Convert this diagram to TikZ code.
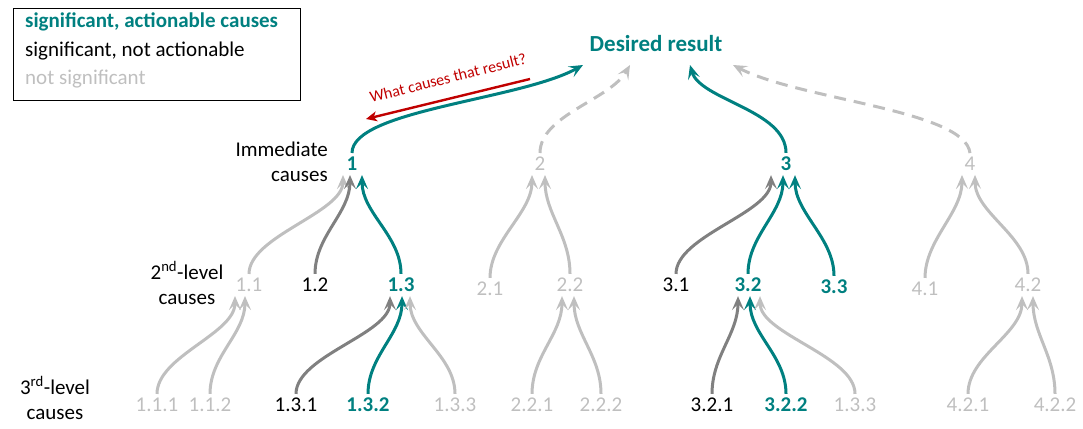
\documentclass[tikz,border=0pt]{standalone}
\usepackage{fontspec}
\setmainfont{Carlito}
\usetikzlibrary{arrows.meta,calc}
\definecolor{tl}{RGB}{0,128,128}
\definecolor{lg}{RGB}{191,191,191}
\definecolor{dg}{RGB}{128,128,128}
\definecolor{rd}{RGB}{192,0,0}
\tikzset{
 lab/.style={font=\fontsize{21}{25}\selectfont, inner sep=4pt},
 T/.style={lab,text=tl,font=\fontsize{21}{25}\selectfont\bfseries},
 B/.style={lab,text=black},
 L/.style={lab,text=lg},
 ar/.style={line width=3pt,-{Stealth[length=14pt,width=12pt,inset=6pt]}},
 aT/.style={ar,draw=tl}, aD/.style={ar,draw=dg}, aL/.style={ar,draw=lg},
 aLd/.style={aL,dash pattern=on 12pt off 8pt},
}
\newcommand{\cc}[4]{\draw[#4] (#1.north) .. controls ($(#1.north)+(0,-38)$) and ($(#2.south)+(#3,38)$) .. ($(#2.south)+(#3,0)$);}
\begin{document}
\begin{tikzpicture}[x=1pt,y=-1pt]
\useasboundingbox (0,0) rectangle (1083,428);
% legend
\draw[line width=0.8pt] (13,8) rectangle (300,100);
\node[T,anchor=west,inner sep=1pt] (lg1) at (24,22) {significant, actionable causes};
\node[B,anchor=west,inner sep=1pt] (lg2) at (24,51) {significant, not actionable};
\node[L,anchor=west,inner sep=1pt] (lg3) at (24,79) {not significant};
% left labels
\node[B,align=right,anchor=east,inner sep=1pt] (im) at (329,162) {Immediate\\causes};
\node[B,align=center,inner sep=1pt] (l2) at (187,283) {2\textsuperscript{nd}-level\\causes};
\node[B,align=center,inner sep=1pt] (l3) at (55,398) {3\textsuperscript{rd}-level\\causes};
% nodes
\node[T,font=\fontsize{23}{25}\selectfont\bfseries] (D) at (656,44) {Desired result};
\node[T] (n1) at (352,164) {1};
\node[L] (n2) at (540,164) {2};
\node[T] (n3) at (786,164) {3};
\node[L] (n4) at (970,164) {4};
\node[L] (n11) at (249,285) {1.1};
\node[B] (n12) at (315,285) {1.2};
\node[T] (n13) at (401,285) {1.3};
\node[L] (n21) at (490,289) {2.1};
\node[L] (n22) at (570,285) {2.2};
\node[B] (n31) at (676,285) {3.1};
\node[T] (n32) at (748,285) {3.2};
\node[T] (n33) at (834,287) {3.3};
\node[L] (n41) at (925,289) {4.1};
\node[L] (n42) at (1028,285) {4.2};
\node[L] (n111) at (157,405) {1.1.1};
\node[L] (n112) at (210,405) {1.1.2};
\node[B] (n131) at (296,405) {1.3.1};
\node[T] (n132) at (368,405) {1.3.2};
\node[L] (n133) at (455,405) {1.3.3};
\node[L] (n221) at (532,405) {2.2.1};
\node[L] (n222) at (601,405) {2.2.2};
\node[B] (n321) at (712,405) {3.2.1};
\node[T] (n322) at (786,405) {3.2.2};
\node[L] (n333) at (855,405) {1.3.3};
\node[L] (n421) at (968,405) {4.2.1};
\node[L] (n422) at (1055,405) {4.2.2};
% top arrows
\draw[aT] (n1.north) .. controls (352,110) and (520,100) .. (583,65);
\draw[aLd] (n2.north) .. controls (540,115) and (610,100) .. (630,65);
\draw[aT] (n3.north) .. controls (786,110) and (700,100) .. (690,65);
\draw[aLd] (n4.north) .. controls (965,110) and (800,100) .. (733,65);
% red question
\draw[rd,line width=2.4pt,-{Stealth[length=11pt,width=10pt,inset=3pt]}] (530,79) coordinate (qa) -- (366,119) coordinate (qb);
\node[text=rd,font=\fontsize{16}{16}\selectfont,rotate=14] (q) at (448,78) {What causes that result?};
% level 2 -> 1
\cc{n11}{n1}{-9}{aL}
\cc{n12}{n1}{-2}{aD}
\cc{n13}{n1}{10}{aT}
\cc{n21}{n2}{-8}{aL}
\cc{n22}{n2}{5}{aL}
\cc{n31}{n3}{-15}{aD}
\cc{n32}{n3}{-3}{aT}
\cc{n33}{n3}{9}{aT}
\cc{n41}{n4}{-8}{aL}
\cc{n42}{n4}{5}{aL}
% level 3 -> 2
\cc{n111}{n11}{-14}{aL}
\cc{n112}{n11}{-4}{aL}
\cc{n131}{n13}{-11}{aD}
\cc{n132}{n13}{1}{aT}
\cc{n133}{n13}{9}{aL}
\cc{n221}{n22}{-8}{aL}
\cc{n222}{n22}{4}{aL}
\cc{n321}{n32}{-10}{aD}
\cc{n322}{n32}{2}{aT}
\cc{n333}{n32}{12}{aL}
\cc{n421}{n42}{-6}{aL}
\cc{n422}{n42}{5}{aL}
\end{tikzpicture}
\end{document}
